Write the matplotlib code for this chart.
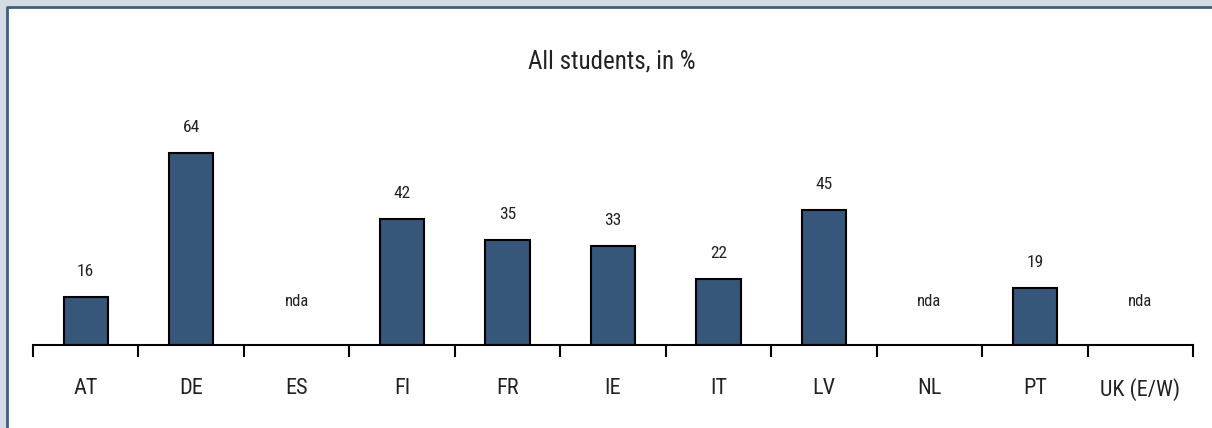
import matplotlib.pyplot as plt
from matplotlib.patches import Rectangle
from matplotlib.lines import Line2D
from matplotlib import font_manager

# data
countries = ['AT', 'DE', 'ES', 'FI', 'FR', 'IE', 'IT', 'LV', 'NL', 'PT', 'UK (E/W)']
values = [16, 64, None, 42, 35, 33, 22, 45, None, 19, None]

names = {f.name for f in font_manager.fontManager.ttflist}
fam = [f for f in ['Liberation Sans Narrow', 'Roboto Condensed', 'Liberation Sans'] if f in names]
plt.rcParams['font.family'] = fam + ['DejaVu Sans']

W, H = 1212, 428
fig = plt.figure(figsize=(W / 100, H / 100), dpi=100)
fig.patch.set_facecolor('white')

# grey frame strips on left/top, blue border line
grey = '#d3dbe3'
fig.add_artist(Rectangle((0, 0), 6 / W, 1, transform=fig.transFigure, color=grey, zorder=-2))
fig.add_artist(Rectangle((0, 1 - 6 / H), 1, 6 / H, transform=fig.transFigure, color=grey, zorder=-2))
fig.add_artist(Line2D([7 / W, 7 / W, 1], [0, 1 - 7 / H, 1 - 7 / H], transform=fig.transFigure,
                      color='#3f5f80', linewidth=2, zorder=-1))

ax = fig.add_axes([33 / W, (H - 345) / H, (1193 - 33) / W, 312 / H], zorder=1)
ax.set_facecolor('none')
ax.set_xlim(-0.5, len(countries) - 0.5)
ax.set_ylim(0, 104)

bar_color = '#36567a'
for i, v in enumerate(values):
    if v is None:
        ax.text(i, 14.5, 'nda', ha='center', va='center', fontsize=12, color='#222222')
    else:
        ax.bar(i, v, width=0.42, color=bar_color, edgecolor='black', linewidth=1.5, zorder=2)
        ax.text(i, v + 8.5, str(v), ha='center', va='center', fontsize=12.5, color='#222222')

for s in ['top', 'right', 'left']:
    ax.spines[s].set_visible(False)
ax.spines['bottom'].set_linewidth(1.5)
ax.spines['bottom'].set_zorder(3)
ax.set_yticks([])

ax.set_xticks([i - 0.5 for i in range(len(countries) + 1)])
ax.set_xticklabels([])
ax.tick_params(axis='x', which='major', direction='out', length=8.5, width=1.5, color='black')
ax.set_xticks(range(len(countries)), minor=True)
ax.set_xticklabels(countries, minor=True, fontsize=16, color='#222222')
ax.tick_params(axis='x', which='minor', length=0, pad=24)

fig.text(612 / W, 1 - 62 / H, 'All students, in %', ha='center', va='center', fontsize=18, color='#222222')

fig.savefig('out.png', dpi=100, facecolor=fig.get_facecolor())
